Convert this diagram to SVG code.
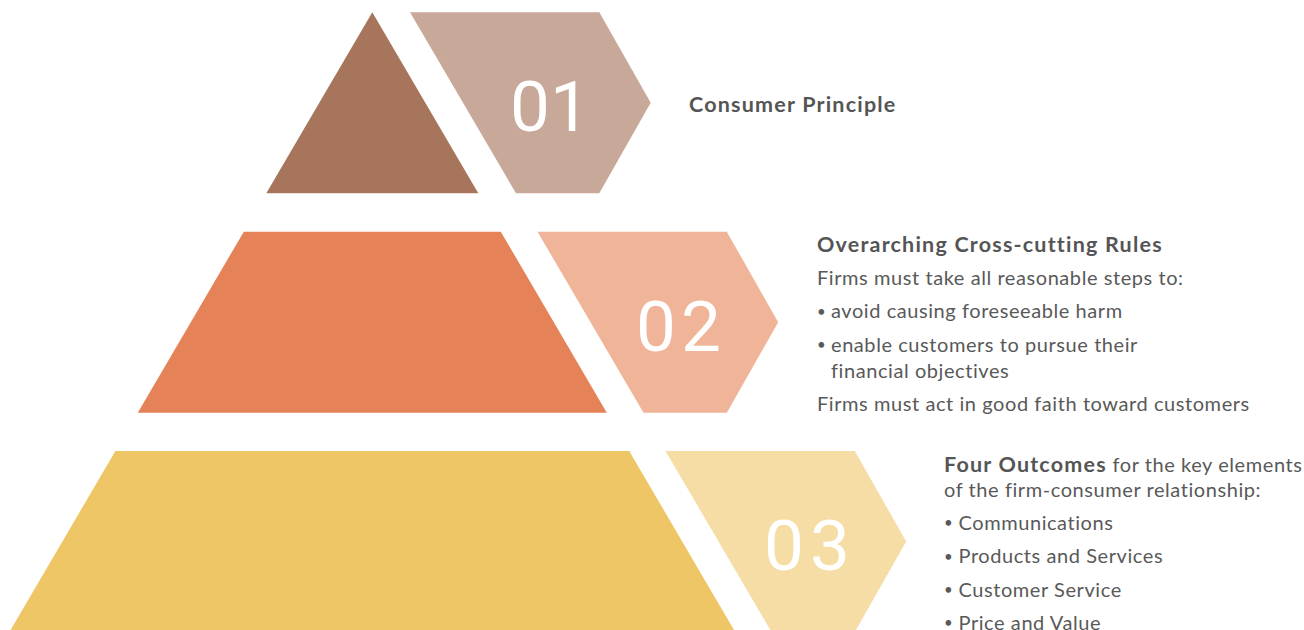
<svg xmlns="http://www.w3.org/2000/svg" width="1304" height="630" viewBox="0 0 1304 630">
  <style>
    .num { font-family: Roboto, "Liberation Sans", sans-serif; font-size: 71px; fill: #ffffff; }
    .title { font-family: Lato, "Liberation Sans", sans-serif; font-size: 21.5px; font-weight: 700; letter-spacing: 1.2px; fill: #555555; }
    .body { font-family: Lato, "Liberation Sans", sans-serif; font-size: 20px; font-weight: 400; letter-spacing: 0.57px; fill: #595959; }
    .dot { font-family: Lato, "Liberation Sans", sans-serif; font-size: 15px; fill: #595959; }
    .b { font-weight: 700; font-size: 21.5px; letter-spacing: 1.2px; fill: #555555; }
  </style>
  <rect width="1304" height="630" fill="#ffffff"/>

  <!-- Tier 1: apex of the pyramid -->
  <g id="tier-1">
    <polygon points="372.3,12.3 478.3,193.3 266.3,193.3" fill="#A6755B"/>
    <polygon points="410,12.3 599.3,12.3 650.7,102.8 599.3,193.3 516,193.3" fill="#C8A899"/>
    <text class="num" x="510" y="130.7">01</text>
    <text class="title" x="689" y="112.3">Consumer Principle</text>
  </g>

  <!-- Tier 2: middle band -->
  <g id="tier-2">
    <polygon points="243.8,231.7 500.8,231.7 606.8,412.7 137.8,412.7" fill="#E68257"/>
    <polygon points="537.5,231.7 726.8,231.7 778.2,322.2 726.8,412.7 643.5,412.7" fill="#F0B598"/>
    <text class="num" x="636" y="350.7" letter-spacing="5">02</text>
    <text class="title" x="817" y="251.7">Overarching Cross-cutting Rules</text>
    <text class="body" x="817" y="285">Firms must take all reasonable steps to:</text>
    <text class="dot" x="817" y="316.5">•</text>
    <text class="body" x="831" y="318.3">avoid causing foreseeable harm</text>
    <text class="dot" x="817" y="349.7">•</text>
    <text class="body" x="831" y="351.5">enable customers to pursue their</text>
    <text class="body" x="831" y="377.5">financial objectives</text>
    <text class="body" x="817" y="410.5">Firms must act in good faith toward customers</text>
  </g>

  <!-- Tier 3: base band -->
  <g id="tier-3">
    <polygon points="115.4,451 629.2,451 735.2,632 9.4,632" fill="#EFC666"/>
    <polygon points="665.5,451 854.8,451 906.2,541.5 854.8,632 771.5,632" fill="#F6DDA6"/>
    <text class="num" x="764" y="570" letter-spacing="6">03</text>
    <text class="body" x="944" y="471.7"><tspan class="b">Four Outcomes</tspan> for the key elements</text>
    <text class="body" x="944" y="497">of the firm-consumer relationship:</text>
    <text class="dot" x="944" y="528.2">•</text>
    <text class="body" x="958.5" y="530">Communications</text>
    <text class="dot" x="944" y="561.5">•</text>
    <text class="body" x="958.5" y="563.3">Products and Services</text>
    <text class="dot" x="944" y="595.2">•</text>
    <text class="body" x="958.5" y="597">Customer Service</text>
    <text class="dot" x="944" y="628.2">•</text>
    <text class="body" x="958.5" y="630">Price and Value</text>
  </g>

  <g id="connectors"/>
</svg>
